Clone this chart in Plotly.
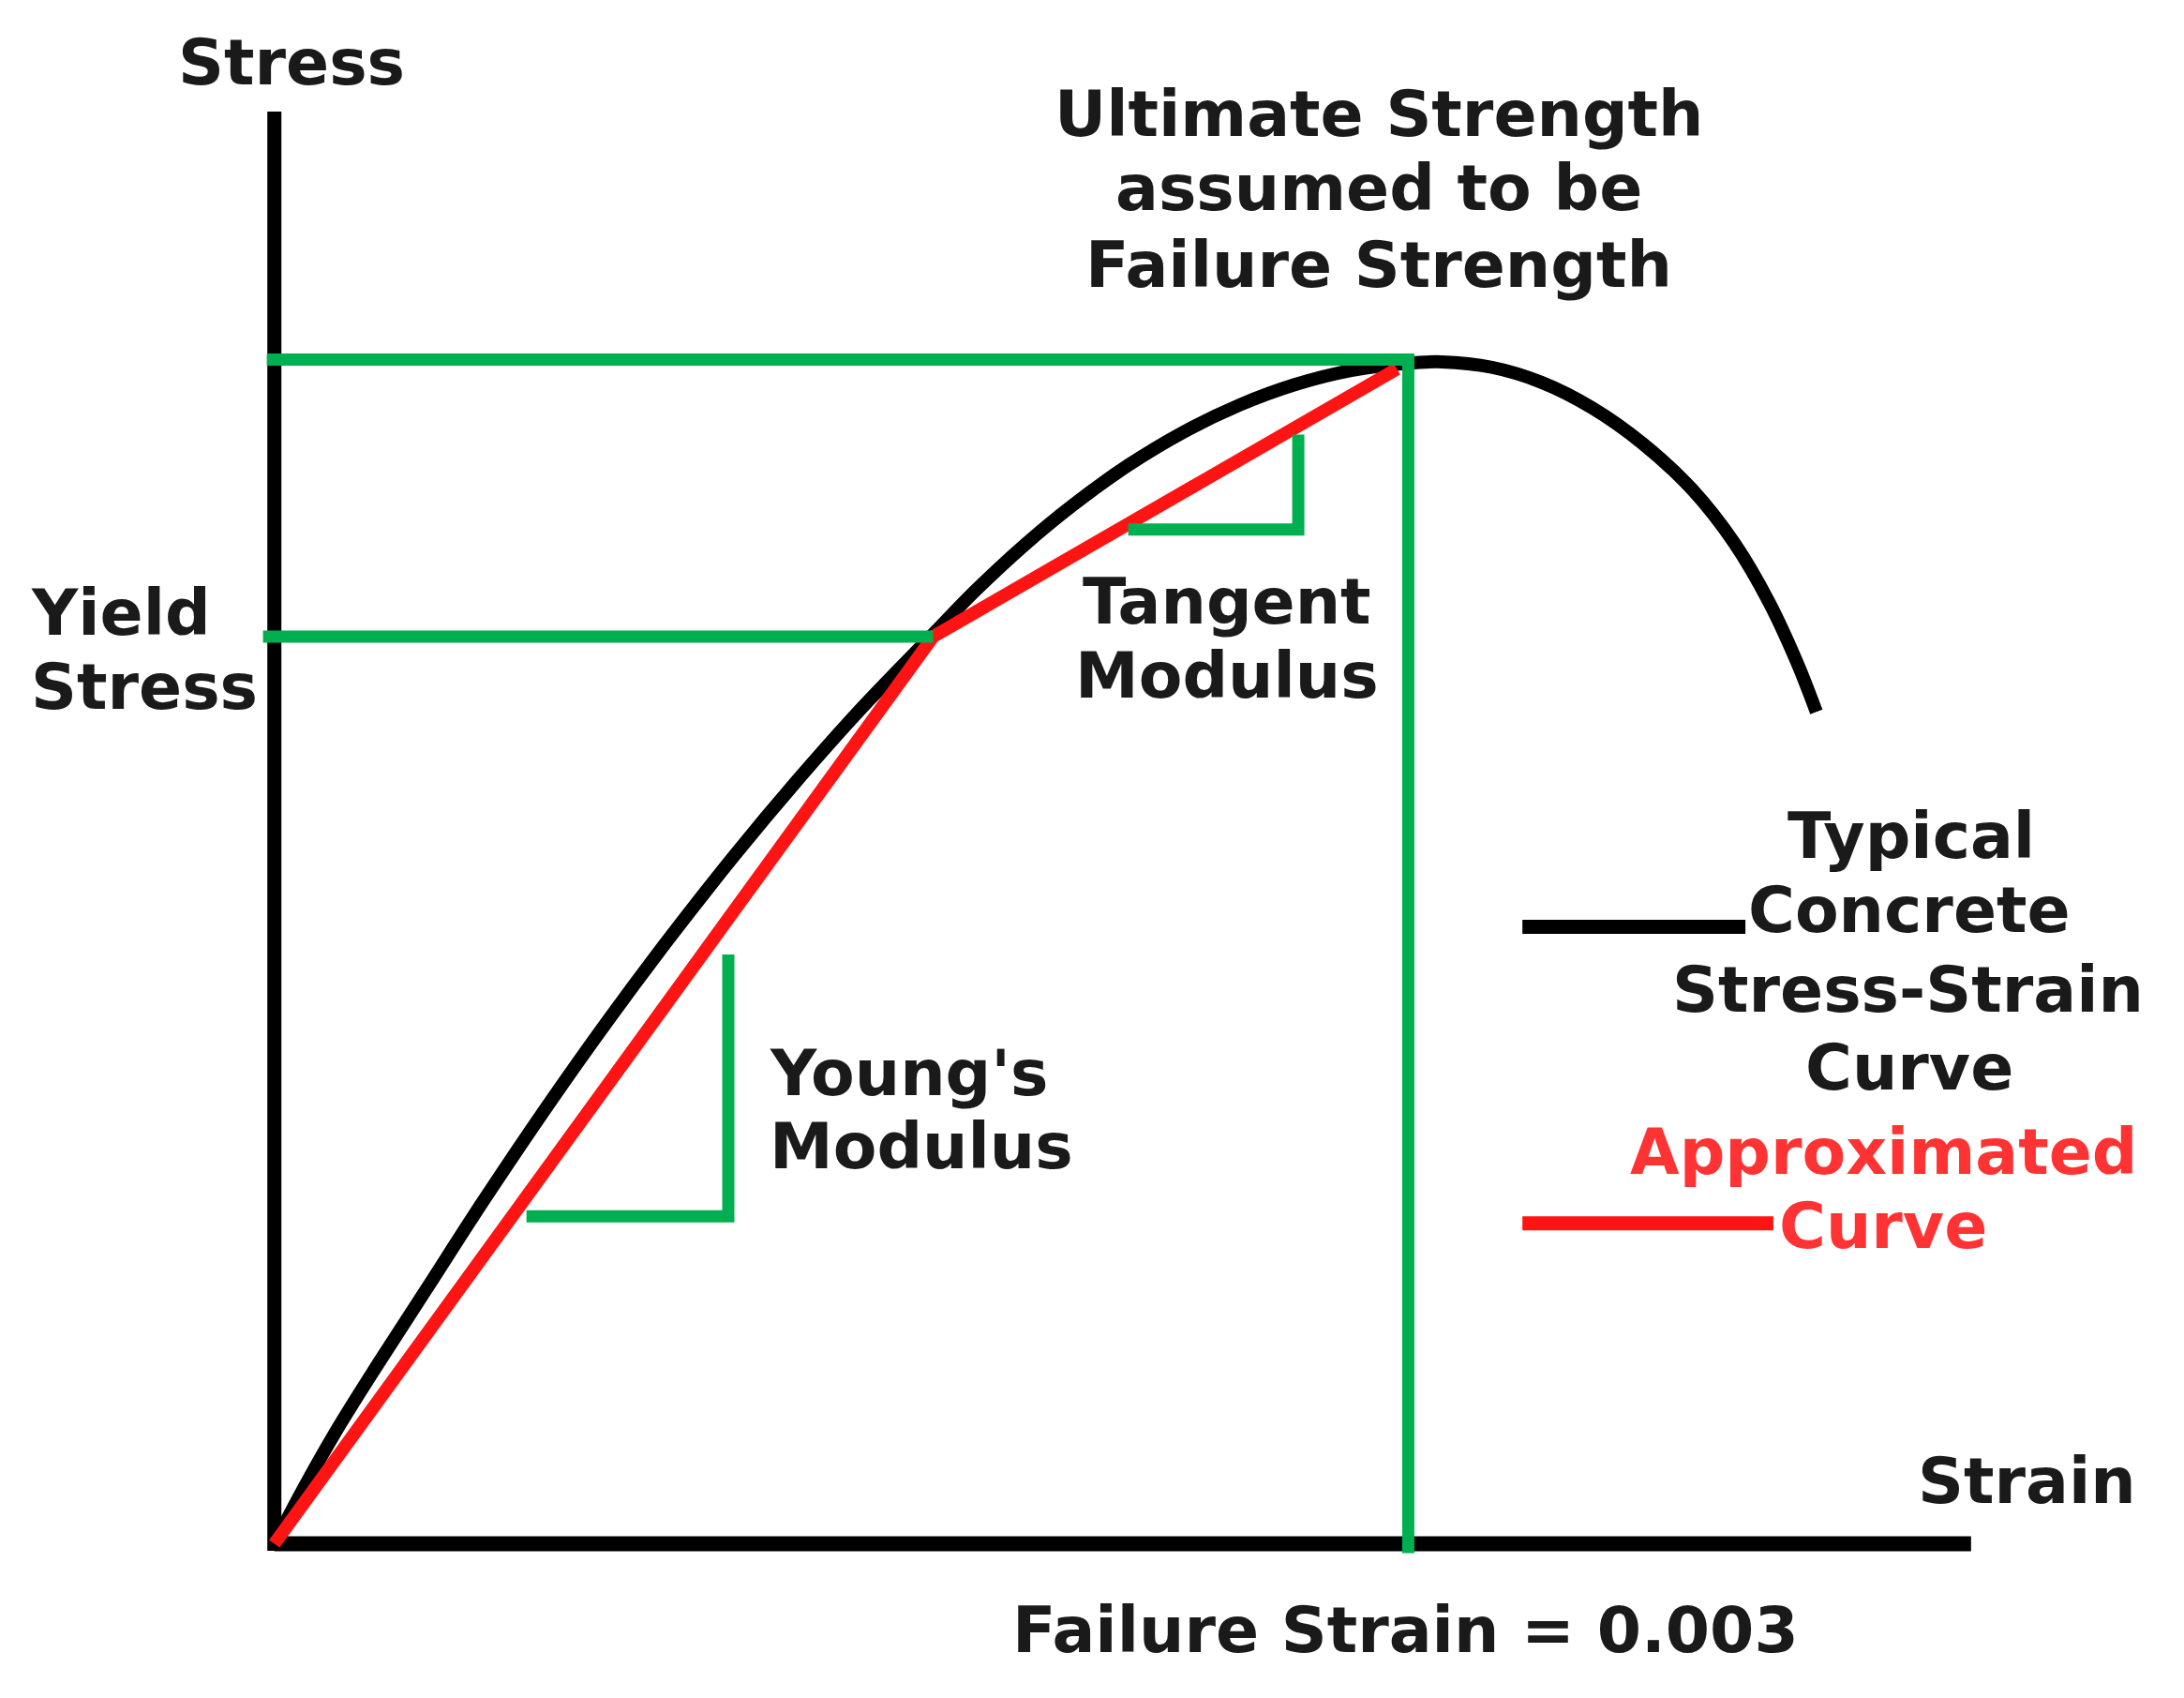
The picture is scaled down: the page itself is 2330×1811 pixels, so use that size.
import plotly.graph_objects as go

# ---- data (strain, normalised stress: ultimate strength = 1.0) ----
curve_strain = [0, 0.0000737, 0.0001658, 0.0002764, 0.0004054, 0.0005528, 0.0007187, 0.0008845,
                0.0010504, 0.0012162, 0.0013821, 0.0015479, 0.0017432,
                0.0018538, 0.0019828, 0.0021118, 0.0022592, 0.0024066, 0.0025541, 0.0027015,
                0.0028489, 0.0029963, 0.0030884,
                0.0032211, 0.0033538, 0.0034865, 0.0036192, 0.0037518, 0.0038624, 0.0039545,
                0.0040283, 0.0040798]
curve_stress = [0, 0.0447, 0.0965, 0.1529, 0.2165, 0.2894, 0.3680, 0.4427,
                0.5136, 0.5808, 0.6441, 0.7036, 0.7682,
                0.8045, 0.8428, 0.8768, 0.9107, 0.9389, 0.9616, 0.9789,
                0.9907, 0.9968, 0.9980,
                0.9934, 0.9806, 0.9592, 0.9293, 0.8900, 0.8451, 0.7951,
                0.7444, 0.7024]

approx_strain = [0, 0.001743, 0.00297]
approx_stress = [0, 0.766, 0.992]

failure_strain = 0.003
ultimate_stress = 1.0
yield_strain = 0.001743
yield_stress = 0.766

young_strain = [0.000667, 0.001201, 0.001201]
young_stress = [0.2765, 0.2765, 0.4976]
tangent_strain = [0.002259, 0.002709, 0.002709]
tangent_stress = [0.8565, 0.8565, 0.9365]

axis_strain_end = 0.004489
axis_stress_end = 1.2094

legend_black_strain = [0.003302, 0.003892]
legend_black_stress = [0.521, 0.521]
legend_red_strain = [0.003302, 0.003966]
legend_red_stress = [0.2706, 0.2706]

BLACK = "#000000"
RED = "#ff1414"
GREEN = "#00b050"
TXT = "#1a1a1a"
TXT_RED = "#ff3333"
FONT = "DejaVu Sans"
FS = 68

fig = go.Figure()

def line(x, y, color, width):
    fig.add_trace(go.Scatter(x=x, y=y, mode="lines", line=dict(color=color, width=width),
                             hoverinfo="skip", showlegend=False))

# axes
line([0, 0], [-0.006, axis_stress_end], BLACK, 15)
line([0, axis_strain_end], [0, 0], BLACK, 16)

# typical curve
fig.add_trace(go.Scatter(x=curve_strain, y=curve_stress, mode="lines",
                         line=dict(color=BLACK, width=14, shape="spline", smoothing=1.0),
                         hoverinfo="skip", showlegend=False))
# approximated curve
line(approx_strain, approx_stress, RED, 14)

# green guides
line([-0.00002, failure_strain, failure_strain], [ultimate_stress, ultimate_stress, -0.008], GREEN, 13)
line([-0.00003, yield_strain], [yield_stress, yield_stress], GREEN, 13)
line(young_strain, young_stress, GREEN, 13)
line(tangent_strain, tangent_stress, GREEN, 13)

# legend swatches
line(legend_black_strain, legend_black_stress, BLACK, 15)
line(legend_red_strain, legend_red_stress, RED, 15)

W, H = 2314, 1795          # figure fits inside the page's 8px body margin
OFF = 8
SC = 2330 / 1568           # reference layout grid -> pixels

def ann(text, xs, ys, anchor="center", color=TXT):
    fig.add_annotation(text=text, xref="paper", yref="paper",
                       x=(xs * SC - OFF) / W, y=1 - (ys * SC - OFF) / H,
                       xanchor=anchor, yanchor="middle", showarrow=False,
                       font=dict(family=FONT, size=FS, color=color, weight="bold"))

ann("Stress", 209, 45)
ann("Ultimate Strength", 990, 82)
ann("assumed to be", 990, 135)
ann("Failure Strength", 990, 190)
ann("Yield", 21, 440, "left")
ann("Stress", 21, 493, "left")
ann("Tangent", 881, 432)
ann("Modulus", 881, 485)
ann("Young's", 551, 770, "left")
ann("Modulus", 551, 823, "left")
ann("Typical", 1372, 600)
ann("Concrete", 1371, 653)
ann("Stress-Strain", 1370, 710)
ann("Curve", 1371, 766)
ann("Approximated", 1352, 827, color=TXT_RED)
ann("Curve", 1352, 880, color=TXT_RED)
ann("Strain", 1455, 1063)
ann("Failure Strain = 0.003", 1009, 1170)

# axis ranges chosen so strain 0 / stress 0 sit at the reference origin
PX_PER_STRAIN = 1209.7 / 0.003
PX_PER_STRESS = 1263.1
X0, Y0 = 292.7 - OFF, 1646.5 - OFF

fig.update_layout(
    width=W, height=H,
    margin=dict(l=0, r=0, t=0, b=0),
    paper_bgcolor="white", plot_bgcolor="white",
    xaxis=dict(range=[-X0 / PX_PER_STRAIN, (W - X0) / PX_PER_STRAIN], visible=False, domain=[0, 1]),
    yaxis=dict(range=[-(H - Y0) / PX_PER_STRESS, Y0 / PX_PER_STRESS], visible=False, domain=[0, 1]),
    showlegend=False,
)

fig.write_html("out.html")
